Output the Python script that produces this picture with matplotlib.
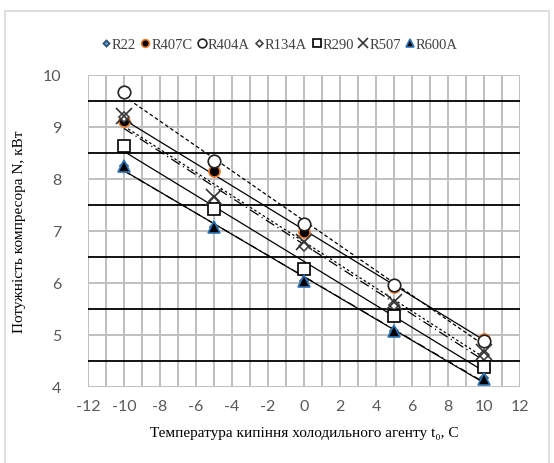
import matplotlib
matplotlib.use("Agg")
import matplotlib.pyplot as plt
import numpy as np

# Дані
temps = [-10, -5, 0, 5, 10]
names = ["R22", "R407C", "R404A", "R134A", "R290", "R507", "R600A"]
R22 = [8.25, 7.08, 6.04, 5.08, 4.17]
R407C = [9.12, 8.15, 6.98, 5.93, 4.93]
R404A = [9.67, 8.35, 7.13, 5.96, 4.88]
R134A = [9.20, 7.58, 6.72, 5.58, 4.62]
R290 = [8.64, 7.42, 6.27, 5.37, 4.38]
R507 = [9.22, 7.65, 6.79, 5.63, 4.67]
R600A = [8.25, 7.08, 6.04, 5.08, 4.15]
series = [R22, R407C, R404A, R134A, R290, R507, R600A]

grid_x = list(range(-12, 13))
grid_y = list(range(4, 11))
major_y = [4.5, 5.5, 6.5, 7.5, 8.5, 9.5]

markers = [
    dict(marker="D", ms=4.5, mfc="#5B9BD5", mec="#2F4F70"),
    dict(marker="o", ms=8, mfc="black", mec="#ED7D31"),
    dict(marker="o", ms=9, mfc="white", mec="#222222"),
    dict(marker="D", ms=5, mfc="white", mec="#444444"),
    dict(marker="s", ms=9, mfc="white", mec="black"),
    dict(marker="x", ms=11, mfc="none", mec="#333333"),
    dict(marker="^", ms=9, mfc="black", mec="#2E75B6"),
]
trend_styles = [(0, (6, 3, 1, 3)), "-", (0, (3, 2)), (0, (8, 3, 1, 3)), "-", (0, (2, 2)), "-"]

plt.rcParams["font.family"] = ["Lato", "DejaVu Sans"]
plt.rcParams["axes.unicode_minus"] = False

fig = plt.figure(figsize=(5.54, 4.64), dpi=100)
ax = fig.add_axes([88 / 554, 1 - 388 / 464, 432 / 554, 312 / 464])

# сітка
ax.vlines(grid_x, 4, 10, colors="#BFBFBF", lw=1.4, zorder=1)
ax.hlines(grid_y, -12, 12, colors="#BFBFBF", lw=1.4, zorder=1)
ax.hlines(major_y, -12, 12, colors="black", lw=1.3, zorder=1.5)

x = np.array(temps)
for vals, st in zip(series, trend_styles):
    k, b = np.polyfit(x, vals, 1)
    ax.plot(x, k * x + b, color="black", lw=0.9, ls=st, zorder=2)

handles = []
for name, vals, m in zip(names, series, markers):
    h, = ax.plot(temps, vals, ls="none", label=name, zorder=3, mew=1.2, **m)
    handles.append(h)

ax.set_xlim(-12, 12)
ax.set_ylim(4, 10)
ax.set_xticks(range(-12, 13, 2))
ax.set_yticks(range(4, 11))
ax.tick_params(length=0, labelsize=11.5, labelcolor="#595959", pad=9)
ax.tick_params(axis="y", pad=19)
for s in ax.spines.values():
    s.set_visible(False)

ax.set_xlabel("Температура кипіння холодильного агенту t\u2080, С",
              family="Liberation Serif", fontsize=11, labelpad=9)
ax.set_ylabel("Потужність компресора N, кВт", family="Liberation Serif",
              fontsize=11, labelpad=12)

leg = fig.legend(handles=handles, loc="center", bbox_to_anchor=(0.505, 1 - 45 / 464),
                 ncol=7, frameon=False, handlelength=0.6, handletextpad=0.1,
                 columnspacing=0.35, prop={"family": "Liberation Serif", "size": 10.5},
                 markerscale=0.7)
for t in leg.get_texts():
    t.set_color("#404040")

# рамка діаграми
fig.add_artist(plt.Rectangle((5 / 554, -0.05), 544 / 554, 1.05 - 12 / 464,
                             transform=fig.transFigure, fill=False,
                             ec="#D9D9D9", lw=1.2))

fig.savefig("out.png", dpi=100)

# перевірка сітки
px = plt.imread("out.png")[250, 95:130, :3].mean(axis=1)
if px.min() > 0.9:
    info = []
    for art in [leg, ax.xaxis.label, ax.yaxis.label] + list(ax.lines):
        art.set_visible(False)
        fig.savefig("dbg.png", dpi=100)
        p = plt.imread("dbg.png")[250, 95:130, :3].mean(axis=1)
        info.append(f"{type(art).__name__}:{p.min():.2f}")
    raise SystemExit(" ".join(info))
